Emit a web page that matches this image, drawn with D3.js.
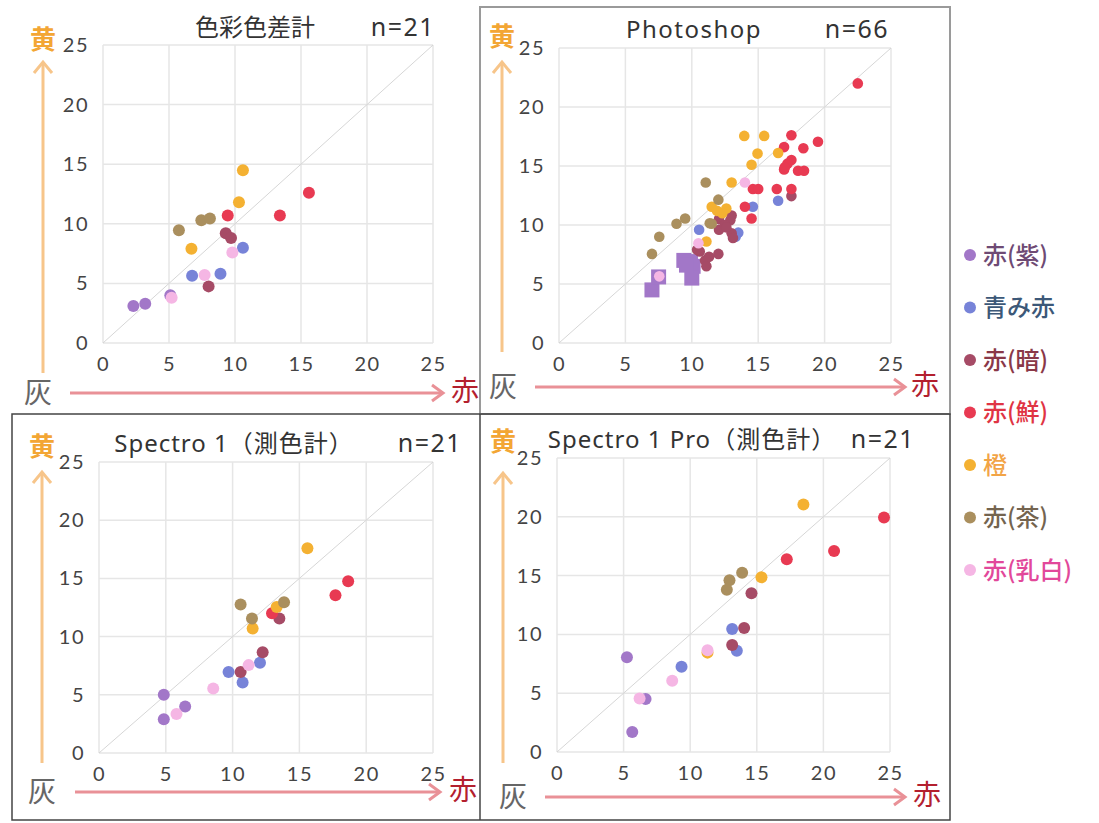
<!DOCTYPE html>
<html>
<head>
<meta charset="utf-8">
<script src="https://cdn.jsdelivr.net/npm/d3@7/dist/d3.min.js"></script>
<style>
  body { margin: 0; background: #fff; }
  text { font-family: "Noto Sans", "Noto Sans CJK JP", sans-serif; }
</style>
</head>
<body>
<script>
// categories (legend order) and their colours
var categories = ['赤(紫)', '青み赤', '赤(暗)', '赤(鮮)', '橙', '赤(茶)', '赤(乳白)'];
var catColors = ['#a277c8', '#7783d8', '#a64b66', '#e83a52', '#f4b132', '#aa8f5e', '#f5b6e4'];
var catTextColors = ['#6e4a74', '#3c5878', '#8a3848', '#e03444', '#f2a446', '#74644f', '#e2489a'];
var ticks = [0, 5, 10, 15, 20, 25];

// [category, 赤 axis, 黄 axis]
var colorimeterPts = [
  ['赤(紫)', 2.3, 3.1], ['赤(紫)', 3.2, 3.3], ['赤(紫)', 5.1, 4.0],
  ['青み赤', 6.75, 5.65], ['青み赤', 8.9, 5.8], ['青み赤', 10.6, 8.0],
  ['赤(暗)', 8.0, 4.75], ['赤(暗)', 9.3, 9.2], ['赤(暗)', 9.7, 8.8],
  ['赤(鮮)', 9.45, 10.7], ['赤(鮮)', 13.4, 10.7], ['赤(鮮)', 15.6, 12.6],
  ['橙', 6.7, 7.9], ['橙', 10.3, 11.8], ['橙', 10.6, 14.5],
  ['赤(茶)', 5.75, 9.45], ['赤(茶)', 7.45, 10.3], ['赤(茶)', 8.1, 10.45],
  ['赤(乳白)', 5.2, 3.8], ['赤(乳白)', 7.7, 5.7], ['赤(乳白)', 9.8, 7.6]
];

var photoshopPts = [
  ['赤(紫)', 7.0, 4.5], ['赤(紫)', 7.5, 5.6], ['赤(紫)', 9.4, 7.0], ['赤(紫)', 9.9, 6.9],
  ['赤(紫)', 10.1, 6.5], ['赤(紫)', 10.0, 5.5], ['赤(紫)', 9.6, 6.6],
  ['青み赤', 10.55, 9.6], ['青み赤', 13.5, 9.35], ['青み赤', 14.6, 11.55], ['青み赤', 16.5, 12.05], ['青み赤', 13.3, 9.0],
  ['赤(暗)', 12.05, 10.5], ['赤(暗)', 12.9, 10.4], ['赤(暗)', 12.05, 9.6], ['赤(暗)', 13.0, 9.3], ['赤(暗)', 13.1, 8.9],
  ['赤(暗)', 10.6, 7.75], ['赤(暗)', 11.0, 7.0], ['赤(暗)', 12.0, 7.55], ['赤(暗)', 11.1, 6.5], ['赤(暗)', 17.5, 12.45],
  ['赤(暗)', 11.3, 7.3], ['赤(暗)', 12.5, 10.0], ['赤(暗)', 13.0, 10.8], ['赤(暗)', 12.6, 9.8], ['赤(暗)', 10.4, 7.9],
  ['赤(鮮)', 22.5, 22.0], ['赤(鮮)', 17.5, 17.6], ['赤(鮮)', 19.5, 17.05], ['赤(鮮)', 18.4, 16.5], ['赤(鮮)', 16.95, 16.6],
  ['赤(鮮)', 17.5, 15.5], ['赤(鮮)', 16.95, 14.7], ['赤(鮮)', 18.0, 14.6], ['赤(鮮)', 18.45, 14.6], ['赤(鮮)', 14.6, 13.05],
  ['赤(鮮)', 15.0, 13.05], ['赤(鮮)', 16.4, 13.05], ['赤(鮮)', 17.5, 13.05], ['赤(鮮)', 14.0, 11.55], ['赤(鮮)', 14.5, 10.55],
  ['赤(鮮)', 17.2, 15.2], ['赤(鮮)', 17.0, 14.9],
  ['橙', 13.95, 17.55], ['橙', 15.45, 17.55], ['橙', 14.95, 16.05], ['橙', 16.5, 16.1], ['橙', 14.5, 15.1],
  ['橙', 13.0, 13.6], ['橙', 11.5, 11.55], ['橙', 12.6, 11.4], ['橙', 11.1, 8.6], ['橙', 12.3, 11.0], ['橙', 11.9, 11.2],
  ['赤(茶)', 11.05, 13.6], ['赤(茶)', 12.0, 12.15], ['赤(茶)', 11.35, 10.15], ['赤(茶)', 9.5, 10.55],
  ['赤(茶)', 8.85, 10.1], ['赤(茶)', 7.55, 9.0], ['赤(茶)', 7.0, 7.55], ['赤(茶)', 11.5, 10.1],
  ['赤(乳白)', 7.55, 5.65], ['赤(乳白)', 10.5, 8.45], ['赤(乳白)', 14.0, 13.6]
];

var spectroPts = [
  ['赤(紫)', 4.85, 5.0], ['赤(紫)', 4.85, 2.9], ['赤(紫)', 6.45, 4.0],
  ['青み赤', 9.7, 6.95], ['青み赤', 10.75, 6.05], ['青み赤', 12.05, 7.75],
  ['赤(暗)', 10.6, 6.95], ['赤(暗)', 12.25, 8.65], ['赤(暗)', 13.5, 11.55],
  ['赤(鮮)', 12.95, 12.0], ['赤(鮮)', 17.7, 13.55], ['赤(鮮)', 18.65, 14.75],
  ['橙', 11.5, 10.7], ['橙', 13.3, 12.55], ['橙', 15.6, 17.6],
  ['赤(茶)', 10.6, 12.75], ['赤(茶)', 11.45, 11.55], ['赤(茶)', 13.85, 12.95],
  ['赤(乳白)', 5.8, 3.35], ['赤(乳白)', 8.55, 5.55], ['赤(乳白)', 11.2, 7.55]
];

var spectroProPts = [
  ['赤(紫)', 5.25, 8.05], ['赤(紫)', 5.65, 1.7], ['赤(紫)', 6.65, 4.5],
  ['青み赤', 9.35, 7.25], ['青み赤', 13.15, 10.45], ['青み赤', 13.5, 8.6],
  ['赤(暗)', 13.15, 9.1], ['赤(暗)', 14.05, 10.55], ['赤(暗)', 14.6, 13.5],
  ['赤(鮮)', 17.25, 16.4], ['赤(鮮)', 20.8, 17.1], ['赤(鮮)', 24.55, 19.95],
  ['橙', 18.5, 21.05], ['橙', 15.35, 14.85], ['橙', 11.3, 8.45],
  ['赤(茶)', 12.95, 14.6], ['赤(茶)', 12.75, 13.8], ['赤(茶)', 13.9, 15.25],
  ['赤(乳白)', 6.2, 4.55], ['赤(乳白)', 8.65, 6.05], ['赤(乳白)', 11.3, 8.65]
];

var W = 1099, H = 823;
var color = d3.scaleOrdinal().domain(categories).range(catColors);
var textColor = d3.scaleOrdinal().domain(categories).range(catTextColors);

var svg = d3.select('body').append('svg').attr('width', W).attr('height', H);

// panel frames
var frames = svg.append('g').attr('fill', 'none');
frames.append('rect').attr('x', 480).attr('y', 7).attr('width', 470).attr('height', 407)
  .attr('stroke', '#9a9a9a').attr('stroke-width', 2);
frames.append('rect').attr('x', 12).attr('y', 414).attr('width', 938).attr('height', 406)
  .attr('stroke', '#444').attr('stroke-width', 1.5);
frames.append('line').attr('x1', 480).attr('x2', 480).attr('y1', 414).attr('y2', 820)
  .attr('stroke', '#444').attr('stroke-width', 1.5);

var panels = [
  {title: '色彩色差計', n: 'n=21', data: colorimeterPts, left: 103, top: 45, w: 330, h: 298, r: 6, ls: 0,
   titleX: 255, titleY: 36, nX: 403, yArrX: 43, yArrTop: 62, yArrBot: 373, kiY: 40,
   xArrY: 393, xArrL: 70, xArrR: 443, haiX: 38, akaX: 465},
  {title: 'Photoshop', n: 'n=66', data: photoshopPts, left: 559, top: 48, w: 332, h: 295, r: 5.3, square: '赤(紫)', ls: 1.5,
   titleX: 694, titleY: 38, nX: 857, yArrX: 502, yArrTop: 62, yArrBot: 352, kiY: 37,
   xArrY: 387, xArrL: 535, xArrR: 905, haiX: 503, akaX: 925},
  {title: 'Spectro 1（測色計）', n: 'n=21', data: spectroPts, left: 99, top: 462, w: 334, h: 291, r: 6, ls: 1,
   titleX: 234, titleY: 452, nX: 430, yArrX: 42, yArrTop: 472, yArrBot: 763, kiY: 447,
   xArrY: 792, xArrL: 75, xArrR: 440, haiX: 42, akaX: 463},
  {title: 'Spectro 1 Pro（測色計）', n: 'n=21', data: spectroProPts, left: 557, top: 458, w: 333, h: 294, r: 6, ls: 1,
   titleX: 692, titleY: 448, nX: 883, yArrX: 503, yArrTop: 473, yArrBot: 763, kiY: 442,
   xArrY: 797, xArrL: 545, xArrR: 905, haiX: 513, akaX: 927}
];

panels.forEach(function(p) {
  var x = d3.scaleLinear().domain([0, 25]).range([p.left, p.left + p.w]),
      y = d3.scaleLinear().domain([0, 25]).range([p.top + p.h, p.top]),
      g = svg.append('g');

  // grid
  g.selectAll('.vgrid').data(ticks).enter().append('line')
    .attr('x1', d => x(d)).attr('x2', d => x(d)).attr('y1', y(0)).attr('y2', y(25))
    .attr('stroke', '#e6e6e6').attr('stroke-width', 1.5);
  g.selectAll('.hgrid').data(ticks).enter().append('line')
    .attr('x1', x(0)).attr('x2', x(25)).attr('y1', d => y(d)).attr('y2', d => y(d))
    .attr('stroke', '#e6e6e6').attr('stroke-width', 1.5);
  g.append('line').attr('x1', x(0)).attr('y1', y(0)).attr('x2', x(25)).attr('y2', y(25))
    .attr('stroke', '#d6d6d6').attr('stroke-width', 1);

  // axes (labels only, grid lines are drawn above)
  var ax = g.append('g').attr('transform', 'translate(0,' + (y(0) + 8) + ')')
    .call(d3.axisBottom(x).tickValues(ticks).tickSize(0).tickPadding(6));
  var ay = g.append('g').attr('transform', 'translate(' + (x(0) - 6) + ',0)')
    .call(d3.axisLeft(y).tickValues(ticks).tickSize(0).tickPadding(8));
  [ax, ay].forEach(function(a) {
    a.select('.domain').remove();
    a.selectAll('text').attr('font-size', 20).attr('fill', '#444')
      .style('font-family', 'Lato, "Noto Sans", sans-serif').attr('letter-spacing', 1.5);
  });

  // points
  g.selectAll('.pt').data(p.data).enter().each(function(d) {
    var s = d3.select(this);
    if (p.square && d[0] === p.square) {
      s.append('rect').attr('x', x(d[1]) - 7.5).attr('y', y(d[2]) - 7.5)
        .attr('width', 15).attr('height', 15).attr('fill', color(d[0]));
    } else {
      s.append('circle').attr('cx', x(d[1])).attr('cy', y(d[2])).attr('r', p.r)
        .attr('fill', color(d[0]));
    }
  });

  // titles
  g.append('text').attr('x', p.titleX).attr('y', p.titleY).attr('text-anchor', 'middle')
    .attr('font-size', 24).attr('fill', '#333').attr('letter-spacing', p.ls).text(p.title);
  g.append('text').attr('x', p.nX).attr('y', p.titleY).attr('text-anchor', 'middle')
    .attr('font-size', 25).attr('fill', '#333').attr('letter-spacing', 1.5).text(p.n);

  // direction arrows
  g.append('line').attr('x1', p.yArrX).attr('x2', p.yArrX).attr('y1', p.yArrBot).attr('y2', p.yArrTop + 1)
    .attr('stroke', '#f7c58a').attr('stroke-width', 3);
  g.append('path').attr('d', 'M' + (p.yArrX - 9) + ',' + (p.yArrTop + 11) + 'L' + p.yArrX + ',' + p.yArrTop +
      'L' + (p.yArrX + 9) + ',' + (p.yArrTop + 11))
    .attr('fill', 'none').attr('stroke', '#f7c58a').attr('stroke-width', 3);
  g.append('line').attr('x1', p.xArrL).attr('x2', p.xArrR - 1).attr('y1', p.xArrY).attr('y2', p.xArrY)
    .attr('stroke', '#e99197').attr('stroke-width', 3);
  g.append('path').attr('d', 'M' + (p.xArrR - 11) + ',' + (p.xArrY - 8) + 'L' + p.xArrR + ',' + p.xArrY +
      'L' + (p.xArrR - 11) + ',' + (p.xArrY + 8))
    .attr('fill', 'none').attr('stroke', '#e99197').attr('stroke-width', 3);

  g.append('text').attr('x', p.yArrX).attr('y', p.kiY).attr('dy', '0.36em').attr('text-anchor', 'middle')
    .attr('font-size', 26).attr('font-weight', 'bold').attr('fill', '#f3a634')
    .style('font-family', '"Noto Sans CJK JP"').text('黄');
  g.append('text').attr('x', p.haiX).attr('y', p.xArrY).attr('dy', '0.36em').attr('text-anchor', 'middle')
    .attr('font-size', 28).attr('fill', '#666').style('font-family', '"Noto Sans CJK JP"').text('灰');
  g.append('text').attr('x', p.akaX).attr('y', p.xArrY - 2).attr('dy', '0.36em').attr('text-anchor', 'middle')
    .attr('font-size', 28).attr('fill', '#b3202e').style('font-family', '"Noto Sans CJK JP"').text('赤');
});

// legend
var legendY = d3.scalePoint().domain(categories).range([255, 570]);
var legend = svg.append('g');
legend.selectAll('circle').data(categories).enter().append('circle')
  .attr('cx', 970).attr('cy', d => legendY(d)).attr('r', 6).attr('fill', d => color(d));
legend.selectAll('text').data(categories).enter().append('text')
  .attr('x', 983).attr('y', d => legendY(d)).attr('dy', '0.36em')
  .attr('font-size', 24).attr('font-weight', 500).attr('fill', d => textColor(d))
  .style('font-family', '"Noto Sans CJK JP"').text(d => d);
</script>
</body>
</html>
